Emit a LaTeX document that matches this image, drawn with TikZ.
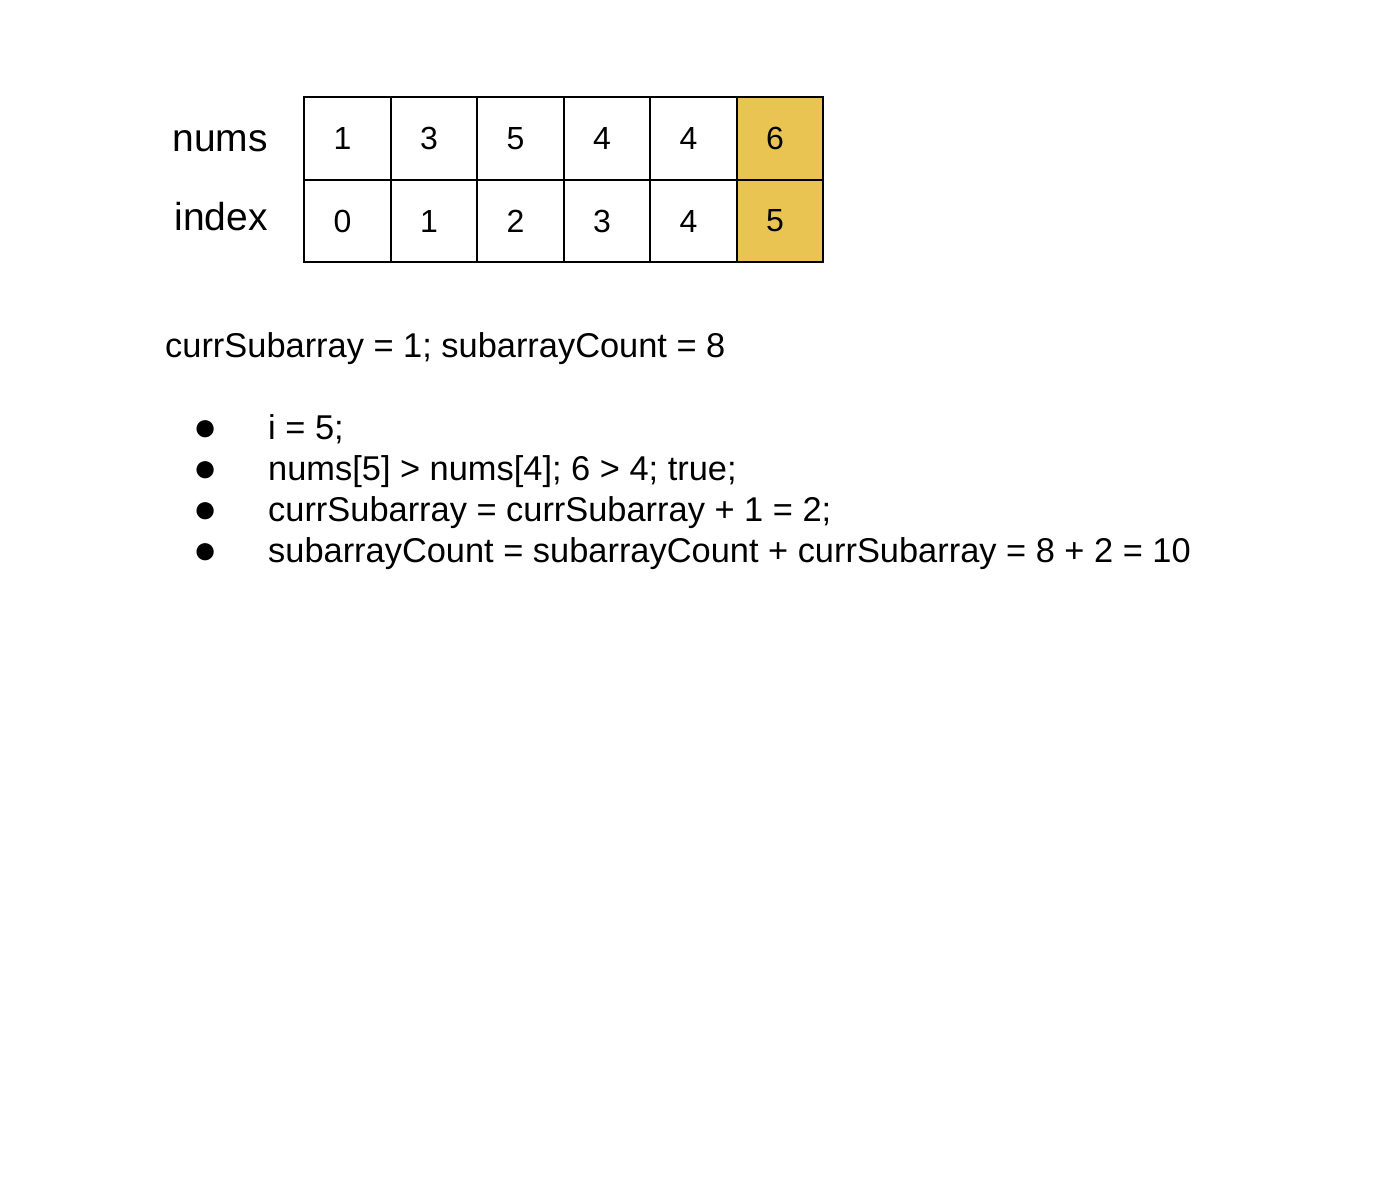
\documentclass[tikz,border=0pt]{standalone}
\usepackage{fontspec}
\setmainfont{Liberation Sans}
\usepackage{tikz}
\usetikzlibrary{positioning}
\definecolor{hiyellow}{RGB}{233,196,82}

\begin{document}
\begin{tikzpicture}[x=1pt, y=-1pt,
    cell/.style={draw=black, fill=white, rectangle, line width=1.6pt, minimum width=86.5pt, minimum height=82.5pt, outer sep=0pt, inner sep=0pt, font=\fontsize{32}{38}\selectfont, execute at end node=\hspace*{10pt}},
    pick/.style={fill=hiyellow},
    rowlabel/.style={anchor=base, inner sep=0pt, font=\fontsize{39}{46}\selectfont},
    line/.style={anchor=base west, inner sep=0pt, font=\fontsize{34.4}{41}\selectfont},
    dot/.style={anchor=center, inner sep=0pt, font=\fontsize{40}{46}\selectfont}
]
\useasboundingbox[fill=white] (0,0) rectangle (1380,1188);

\node[cell] (n0) at (347.5,138.5) {1};
\node[cell, right=0pt of n0] (n1) {3};
\node[cell, right=0pt of n1] (n2) {5};
\node[cell, right=0pt of n2] (n3) {4};
\node[cell, right=0pt of n3] (n4) {4};
\node[cell, pick, right=0pt of n4] (n5) {6};

\node[cell, below=0pt of n0] (i0) {0};
\node[cell, below=0pt of n1] (i1) {1};
\node[cell, below=0pt of n2] (i2) {2};
\node[cell, below=0pt of n3] (i3) {3};
\node[cell, below=0pt of n4] (i4) {4};
\node[cell, pick, below=0pt of n5] (i5) {5};

\node[rowlabel] (numslabel) at (220,151) {nums};
\node[rowlabel] (indexlabel) at (221,230) {index};

\node[line] (state) at (165,357) {currSubarray = 1; subarrayCount = 8};

\node[dot] (b1) at (206,431) {●};
\node[dot] (b2) at (206,472) {●};
\node[dot] (b3) at (206,513) {●};
\node[dot] (b4) at (206,554) {●};
\node[line] (s1) at (268,439) {i = 5;};
\node[line] (s2) at (268,480) {nums[5] > nums[4]; 6 > 4; true;};
\node[line] (s3) at (268,521) {currSubarray = currSubarray + 1 = 2;};
\node[line] (s4) at (268,562) {subarrayCount = subarrayCount + currSubarray = 8 + 2 = 10};
\end{tikzpicture}
\end{document}
